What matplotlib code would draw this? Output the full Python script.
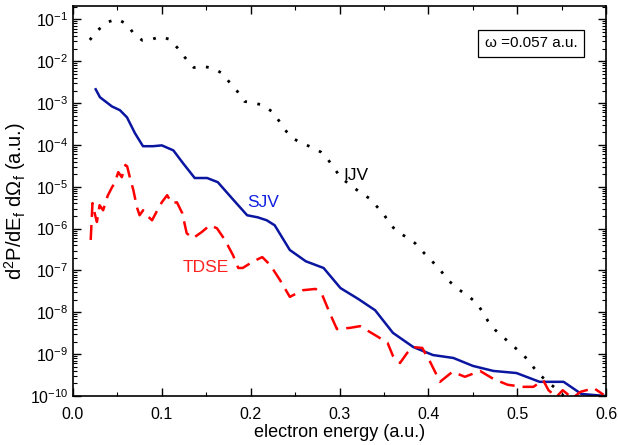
import numpy as np
import matplotlib
matplotlib.use("Agg")
import matplotlib.pyplot as plt
from matplotlib.ticker import LogLocator, MultipleLocator, NullFormatter

plt.rcParams['font.family'] = ['Liberation Sans', 'DejaVu Sans']
plt.rcParams['mathtext.fontset'] = 'custom'
plt.rcParams['mathtext.rm'] = 'Liberation Sans'
plt.rcParams['mathtext.it'] = 'Liberation Sans'

# IJV (dotted) - energy (a.u.), log10 of d2P/dE dOmega
ijv_x = [0.019, 0.028, 0.038, 0.050, 0.061, 0.068, 0.078, 0.088, 0.099, 0.109,
         0.118, 0.126, 0.136, 0.146, 0.158, 0.168, 0.176, 0.185, 0.193, 0.204,
         0.214, 0.225, 0.232, 0.239, 0.247, 0.258, 0.268, 0.279, 0.286, 0.301,
         0.312, 0.323, 0.333, 0.349, 0.356, 0.364, 0.375, 0.385, 0.394, 0.405,
         0.414, 0.422, 0.432, 0.443, 0.453, 0.461, 0.467, 0.475, 0.485, 0.495,
         0.507, 0.515, 0.524, 0.534, 0.545, 0.552]
ijv_log = [-1.49, -1.26, -1.07, -0.99, -1.12, -1.33, -1.50, -1.48, -1.41, -1.48,
           -1.69, -1.91, -2.15, -2.12, -2.17, -2.29, -2.50, -2.72, -2.96, -3.00,
           -3.05, -3.22, -3.43, -3.65, -3.84, -3.96, -4.05, -4.17, -4.32, -4.77,
           -4.96, -5.13, -5.27, -5.63, -5.87, -6.06, -6.20, -6.35, -6.56, -6.80,
           -7.01, -7.23, -7.42, -7.59, -7.75, -7.99, -8.21, -8.42, -8.61, -8.80,
           -9.02, -9.23, -9.47, -9.66, -9.85, -10.0]

# SJV (solid blue)
sjv_x = [0.0256, 0.0304, 0.0439, 0.0529, 0.0608, 0.0698, 0.0788, 0.090, 0.100,
         0.113, 0.124, 0.137, 0.151, 0.163, 0.180, 0.196, 0.208, 0.218, 0.227,
         0.244, 0.262, 0.282, 0.301, 0.321, 0.340, 0.360, 0.383, 0.405, 0.428,
         0.450, 0.473, 0.499, 0.525, 0.552, 0.572, 0.600]
sjv_log = [-2.67, -2.86, -3.08, -3.17, -3.34, -3.72, -4.03, -4.03, -4.01,
           -4.13, -4.44, -4.79, -4.79, -4.89, -5.30, -5.68, -5.73, -5.80, -5.92,
           -6.51, -6.78, -6.94, -7.42, -7.68, -7.95, -8.49, -8.83, -9.02, -9.09,
           -9.28, -9.40, -9.45, -9.66, -9.66, -9.95, -10.0]

# TDSE (dashed red)
tdse_x = [0.020, 0.022, 0.025, 0.027, 0.030, 0.034, 0.039, 0.044, 0.047, 0.051,
          0.055, 0.059, 0.061, 0.064, 0.068, 0.072, 0.075, 0.079, 0.084, 0.089,
          0.095, 0.100, 0.106, 0.111, 0.117, 0.123, 0.128, 0.135, 0.145, 0.154,
          0.162, 0.171, 0.180, 0.186, 0.191, 0.203, 0.213, 0.222, 0.233, 0.244,
          0.259, 0.273, 0.280, 0.289, 0.297, 0.312, 0.323, 0.342, 0.354, 0.360,
          0.368, 0.376, 0.383, 0.393, 0.402, 0.413, 0.427, 0.441, 0.458, 0.473,
          0.489, 0.506, 0.518, 0.529, 0.535, 0.544, 0.551, 0.562, 0.571, 0.586,
          0.597]
tdse_log = [-6.27, -5.39, -5.68, -5.84, -5.44, -5.56, -5.22, -5.01, -4.91, -4.65,
            -4.77, -4.48, -4.51, -4.77, -5.08, -5.49, -5.68, -5.56, -5.70, -5.80,
            -5.56, -5.37, -5.20, -5.39, -5.37, -5.63, -6.11, -6.23, -6.08, -5.92,
            -5.99, -6.27, -6.63, -6.94, -6.94, -6.78, -6.68, -6.87, -7.23, -7.63,
            -7.47, -7.44, -7.56, -8.02, -8.40, -8.37, -8.33, -8.57, -8.73, -9.04,
            -9.21, -8.97, -8.83, -8.85, -9.19, -9.66, -9.42, -9.54, -9.40, -9.59,
            -9.73, -9.78, -9.78, -9.62, -9.86, -10.02, -9.86, -10.05, -9.90, -9.81,
            -9.97]

fig = plt.figure(figsize=(6.18, 4.45), dpi=100)
ax = fig.add_axes([0.118, 0.110, 0.863, 0.8765])

ax.plot(ijv_x, 10.0 ** np.array(ijv_log), color='black', lw=2.0,
        linestyle=(0, (1, 3.8)))
ax.plot(sjv_x, 10.0 ** np.array(sjv_log), color='#0a16a0', lw=1.8)
ax.plot(tdse_x, 10.0 ** np.array(tdse_log), color='#ff0000', lw=1.8,
        linestyle=(0, (6, 3.2)))

ax.set_yscale('log')
ax.set_xlim(0.0, 0.6)
ax.set_ylim(1e-10, 10 ** -0.68)

ax.xaxis.set_major_locator(MultipleLocator(0.1))
ax.xaxis.set_minor_locator(MultipleLocator(0.05))
ax.yaxis.set_major_locator(LogLocator(base=10, numticks=20))
ax.yaxis.set_minor_locator(LogLocator(base=10, subs=np.arange(2, 10), numticks=20))
ax.yaxis.set_minor_formatter(NullFormatter())
ax.tick_params(which='both', direction='in', top=True, right=True, labelsize=11.5)
ax.tick_params(which='major', length=6, width=1)
ax.tick_params(which='minor', length=3, width=0.8)
ax.tick_params(axis='x', which='major', pad=8)
ax.set_xticklabels(['%.1f' % v for v in ax.get_xticks()])
for s in ax.spines.values():
    s.set_linewidth(1.2)

ax.set_xlabel('electron energy (a.u.)', fontsize=13, labelpad=1)
ax.set_ylabel(r'd$^2$P/dE$_f$ d$\Omega_f$ (a.u.)', fontsize=14.5, labelpad=1)

ax.text(0.304, 10 ** -4.73, 'IJV', color='black', fontsize=12.5, va='center')
ax.text(0.196, 10 ** -5.38, 'SJV', color='#1020e0', fontsize=12.5, va='center')
ax.text(0.123, 10 ** -6.93, 'TDSE', color='#ff2020', fontsize=12.5, va='center')
ax.text(0.859, 0.904, 'ω =0.057 a.u.', transform=ax.transAxes, fontsize=11,
        ha='center', va='center',
        bbox=dict(boxstyle='square,pad=0.45', facecolor='white',
                  edgecolor='black', linewidth=0.9))

fig.savefig('out.png', dpi=100)
